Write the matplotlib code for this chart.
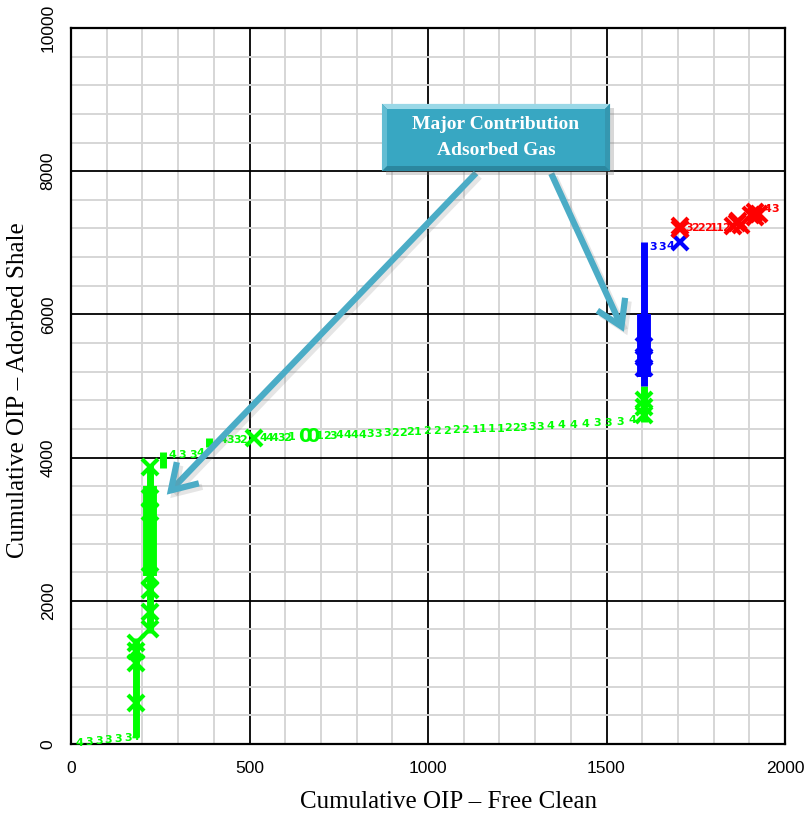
import matplotlib
matplotlib.use("Agg")
import matplotlib.pyplot as plt
import matplotlib.patheffects as pe
from matplotlib import font_manager
from matplotlib.patches import FancyArrowPatch, Polygon, Rectangle
from matplotlib.ticker import MultipleLocator

# --- green series: numbered points (zone index drawn as the marker) ---
green_lbl = list("4333334" "4334" "4332" "444321"
                 "123444433322212222211112233344443334")
green_lbl_x = [25, 50, 78, 104, 132, 160, 180,
               283, 311, 342, 362,
               426, 445, 465, 482,
               538, 555, 571, 588, 605, 619,
               697, 717, 734, 753, 773, 793, 815, 837, 860, 885, 907, 930,
               950, 972, 997, 1025, 1053, 1078, 1104, 1132, 1154, 1179, 1202,
               1224, 1247, 1266, 1291, 1314, 1342, 1375, 1406, 1440, 1473,
               1504, 1538, 1574]
green_lbl_y = [14, 28, 42, 56, 70, 84, 98,
               4040, 4040, 4040, 4070,
               4250, 4250, 4250, 4250,
               4280, 4280, 4280, 4280, 4280, 4285,
               4300, 4300, 4305, 4310, 4315, 4320, 4320, 4330, 4335, 4340,
               4345, 4350, 4355, 4360, 4365, 4370, 4375, 4380, 4385, 4390,
               4395, 4400, 4405, 4410, 4415, 4420, 4425, 4430, 4440, 4450,
               4460, 4470, 4480, 4490, 4500, 4520]
green_zero_x = [655, 678]
green_zero_y = [4300, 4300]

# vertical runs where the green points pile up
green_run_x = [183, 220, 258, 387, 1606]
green_run_lo = [100, 1550, 3860, 4150, 4500]
green_run_hi = [1480, 3900, 4080, 4270, 5000]
green_dense_x = [220]
green_dense_lo = [2340]
green_dense_hi = [3600]

green_cross_x = [183, 183, 183, 183, 220, 220, 220, 220, 220, 220, 220,
                 513, 1606, 1606, 1606]
green_cross_y = [570, 1130, 1300, 1410, 1600, 1850, 2150, 2340, 3245, 3440,
                 3870, 4270, 4600, 4700, 4800]

# --- blue series ---
blue_lbl = list("334")
blue_lbl_x = [1630, 1655, 1678]
blue_lbl_y = [6945, 6945, 6950]
blue_run_x = [1606]
blue_run_lo = [5000]
blue_run_hi = [7010]
blue_dense_x = [1606]
blue_dense_lo = [5130]
blue_dense_hi = [6000]
blue_cross_x = [1606, 1606, 1606, 1706]
blue_cross_y = [5250, 5400, 5560, 7010]

# --- red series ---
red_lbl = list("3222112" "43")
red_lbl_x = [1732, 1749, 1766, 1783, 1800, 1817, 1834, 1950, 1972]
red_lbl_y = [7200, 7200, 7200, 7200, 7200, 7200, 7200, 7470, 7470]
red_cross_x = [1706, 1706, 1855, 1866, 1876, 1868, 1905, 1916, 1926, 1916]
red_cross_y = [7190, 7230, 7240, 7275, 7250, 7300, 7390, 7430, 7400, 7360]

GREEN = "#00ff00"
BLUE = "#0000ff"
RED = "#ff0000"
TEAL = "#4bacc6"

# narrow sans for the tick numbers, if the system has one
names = {f.name for f in font_manager.fontManager.ttflist}
if "Liberation Sans Narrow" in names:
    tick_font = dict(family="Liberation Sans Narrow", size=13.5)
else:
    tick_font = dict(family="Liberation Sans", size=12.5)

fig = plt.figure(figsize=(8.06, 8.15), dpi=100)
ax = fig.add_axes([71 / 806, 71 / 815, 714 / 806, 716 / 815])
ax.set_xlim(0, 2000)
ax.set_ylim(0, 10000)

ax.xaxis.set_major_locator(MultipleLocator(500))
ax.xaxis.set_minor_locator(MultipleLocator(100))
ax.yaxis.set_major_locator(MultipleLocator(2000))
ax.yaxis.set_minor_locator(MultipleLocator(400))
ax.grid(which="minor", color="#d6d6d6", lw=1.4, zorder=0)
ax.grid(which="major", color="black", lw=1.3, zorder=0.5)
ax.set_axisbelow(True)
for sp in ax.spines.values():
    sp.set_linewidth(1.6)

ax.tick_params(which="both", length=0)
ax.tick_params(axis="x", pad=12)
ax.tick_params(axis="y", pad=11)
ax.set_xticks([0, 500, 1000, 1500, 2000])
ax.set_xticklabels(["0", "500", "1000", "1500", "2000"], **tick_font)
ax.set_yticks([0, 2000, 4000, 6000, 8000, 10000])
ax.set_yticklabels(["0", "2000", "4000", "6000", "8000", "10000"],
                   rotation=90, va="center", **tick_font)

fig.text(449 / 806, 1 - 808 / 815, "Cumulative OIP \u2013 Free Clean",
         family="Liberation Serif", size=18, ha="center", va="baseline")
fig.text(18 / 806, 1 - 390 / 815, "Cumulative OIP \u2013 Adorbed Shale",
         family="Liberation Serif", size=18, ha="center", va="center",
         rotation=90)


def draw_series(color, run_x, run_lo, run_hi, dense_x, dense_lo, dense_hi,
                cross_x, cross_y, lbl, lbl_x, lbl_y):
    for x, lo, hi in zip(run_x, run_lo, run_hi):
        ax.plot([x, x], [lo, hi], color=color, lw=5, solid_capstyle="butt",
                zorder=3)
    for x, lo, hi in zip(dense_x, dense_lo, dense_hi):
        ax.plot([x, x], [lo, hi], color=color, lw=10, solid_capstyle="butt",
                zorder=3)
    ax.plot(cross_x, cross_y, ls="none", marker="x", ms=11, mew=3,
            color=color, zorder=4)
    for s, x, y in zip(lbl, lbl_x, lbl_y):
        ax.text(x, y, s, color=color, fontsize=8, fontweight="bold",
                family="DejaVu Sans", ha="center", va="center", zorder=5)


draw_series(GREEN, green_run_x, green_run_lo, green_run_hi,
            green_dense_x, green_dense_lo, green_dense_hi,
            green_cross_x, green_cross_y, green_lbl, green_lbl_x, green_lbl_y)
for x, y in zip(green_zero_x, green_zero_y):
    ax.text(x, y, "0", color=GREEN, fontsize=14, fontweight="bold",
            family="DejaVu Sans", ha="center", va="center", zorder=5)

draw_series(BLUE, blue_run_x, blue_run_lo, blue_run_hi,
            blue_dense_x, blue_dense_lo, blue_dense_hi,
            blue_cross_x, blue_cross_y, blue_lbl, blue_lbl_x, blue_lbl_y)

draw_series(RED, [], [], [], [], [], [],
            red_cross_x, red_cross_y, red_lbl, red_lbl_x, red_lbl_y)

# callout arrows
for start, end in [((1140, 8002), (263, 3455)), ((1342, 8002), (1552, 5722))]:
    arr = FancyArrowPatch(start, end,
                          arrowstyle="->,head_length=0.8,head_width=0.5",
                          mutation_scale=22, lw=4.5, color=TEAL,
                          capstyle="butt", joinstyle="miter", zorder=6)
    arr.set_path_effects([pe.SimpleLineShadow(offset=(2.5, -2.5),
                                              shadow_color="gray",
                                              alpha=0.2), pe.Normal()])
    ax.add_patch(arr)

# bevelled callout box
bx0, bx1, by0, by1 = 871, 1510, 8002, 8940
ex, ey = 15, 75
ax.add_patch(Rectangle((bx0 + 10, by0 - 55), bx1 - bx0, by1 - by0,
                       color="gray", alpha=0.3, lw=0, zorder=7))
ax.add_patch(Rectangle((bx0, by0), bx1 - bx0, by1 - by0,
                       color="#2b879f", lw=0, zorder=8))
ax.add_patch(Polygon([(bx0, by1), (bx1, by1), (bx1 - ex, by1 - ey),
                      (bx0 + ex, by1 - ey)], color="#9ad8e7", lw=0, zorder=8))
ax.add_patch(Polygon([(bx0, by0), (bx0, by1), (bx0 + ex, by1 - ey),
                      (bx0 + ex, by0 + ey)], color="#62bdd3", lw=0, zorder=8))
ax.add_patch(Polygon([(bx1, by0), (bx1, by1), (bx1 - ex, by1 - ey),
                      (bx1 - ex, by0 + ey)], color="#3597b0", lw=0, zorder=8))
ax.add_patch(Rectangle((bx0 + ex, by0 + ey), bx1 - bx0 - 2 * ex,
                       by1 - by0 - 2 * ey, color="#38a7c2", lw=0, zorder=9))
ax.text((bx0 + bx1) / 2, (by0 + by1) / 2, "Major Contribution\nAdsorbed Gas",
        color="white", family="Liberation Serif", fontweight="bold",
        fontsize=14, ha="center", va="center", linespacing=1.75, zorder=10)

fig.savefig("out.png", dpi=100)
